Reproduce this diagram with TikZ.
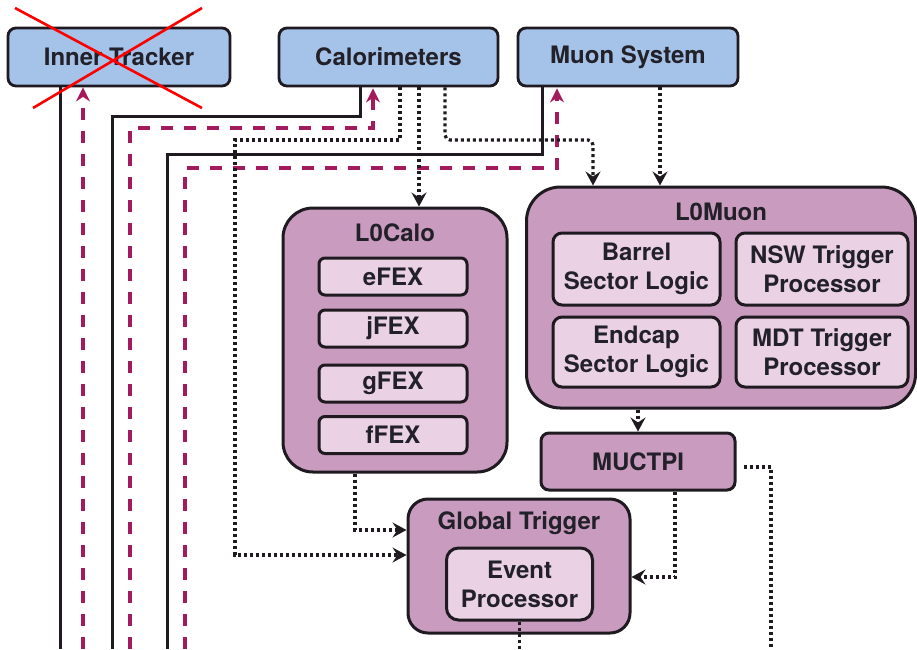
\documentclass[tikz,border=0pt]{standalone}
\usepackage{fontspec}
\setmainfont{TeX Gyre Heros}
\usetikzlibrary{arrows.meta,calc}

\definecolor{srcblue}{RGB}{165,195,233}
\definecolor{trigpink}{RGB}{201,155,190}
\definecolor{subpink}{RGB}{234,210,228}
\definecolor{edge}{RGB}{30,26,32}
\definecolor{ink}{RGB}{34,32,40}
\definecolor{retmag}{RGB}{163,27,92}

\begin{document}
\begin{tikzpicture}[x=1pt,y=-1pt,
  every node/.style={font=\fontsize{24}{29}\selectfont\bfseries, text=ink, align=center, inner sep=0pt},
  srcbox/.style={draw=edge, line width=2.8pt, fill=srcblue, rounded corners=8pt,
                 minimum width=#1, minimum height=58pt},
  groupbox/.style={draw=edge, line width=3pt, fill=trigpink},
  subbox/.style={draw=edge, line width=3pt, fill=subpink, rounded corners=6pt},
  readout/.style={draw=edge, line width=3pt},
  feedback/.style={draw=retmag, line width=4pt, dash pattern=on 12pt off 11pt,
                   -{Stealth[length=14pt,width=14pt]}},
  dotline/.style={draw=edge, line width=3.2pt, dash pattern=on 3pt off 3pt},
  dotarrow/.style={dotline, -{Stealth[length=14pt,width=15pt,inset=5pt]}}
]
\useasboundingbox (0,0) rectangle (917,649);

% detector sources
\node[srcbox=222pt] (it)   at (119,57)   {Inner Tracker};
\node[srcbox=219pt] (cal)  at (388.5,57) {Calorimeters};
\node[srcbox=220pt] (muon) at (628,57)   {Muon System};

% open ends at the lower edge
\coordinate (b60)  at (60,649);
\coordinate (b83)  at (83,649);
\coordinate (b112) at (112,649);
\coordinate (b130) at (130,649);
\coordinate (b167) at (167,649);
\coordinate (b185) at (185,649);
\coordinate (b771) at (771,649);
\coordinate (bot)  at (0,649);

% readout paths (solid)
\draw[readout] ($(it.south)+(-59,0)$) -- (b60);
\draw[readout] ($(cal.south)+(-28.5,0)$) -- ++(0,29) -| (b112);
\draw[readout] ($(muon.south)+(-86,0)$) -- ++(0,67) -| (b167);

% feedback paths (dashed)
\draw[feedback] (b83) -- (b83 |- it.south);
\draw[feedback] (b130) |- ($(cal.south)+(-15.5,41)$) -- ($(cal.south)+(-15.5,1)$);
\draw[feedback] (b185) |- ($(muon.south)+(-71,81)$) -- ($(muon.south)+(-71,1)$);

% trigger boxes
\node[groupbox, rounded corners=30pt, minimum width=224pt, minimum height=264pt] (calo) at (395,340) {};
\node (calot) at (395,233) {L0Calo};
\node[subbox, minimum width=148pt, minimum height=37pt] (efex) at (393,276.5) {eFEX};
\node[subbox, minimum width=148pt, minimum height=37pt] (jfex) at (393,328.5) {jFEX};
\node[subbox, minimum width=148pt, minimum height=37pt] (gfex) at (393,383.5) {gFEX};
\node[subbox, minimum width=148pt, minimum height=37pt] (ffex) at (393,435)   {fFEX};

\node[groupbox, rounded corners=34pt, minimum width=389pt, minimum height=221pt] (l0mu) at (721,297.5) {};
\node (l0mut) at (721,212) {L0Muon};
\node[subbox, rounded corners=9pt, minimum width=167pt, minimum height=72pt] (barrel) at (636.5,269) {Barrel\\Sector Logic};
\node[subbox, rounded corners=9pt, minimum width=172pt, minimum height=72pt] (nsw)    at (822,269)   {NSW Trigger\\Processor};
\node[subbox, rounded corners=9pt, minimum width=167pt, minimum height=70pt] (endcap) at (636.5,352) {Endcap\\Sector Logic};
\node[subbox, rounded corners=9pt, minimum width=172pt, minimum height=70pt] (mdt)    at (822,352)   {MDT Trigger\\Processor};

\node[groupbox, rounded corners=8pt, minimum width=194pt, minimum height=57pt] (muctpi) at (638,461.5) {MUCTPI};

\node[groupbox, rounded corners=20pt, minimum width=222pt, minimum height=134pt] (gt) at (519,566) {};
\node (gtt) at (519,523) {Global Trigger};
\node[subbox, rounded corners=12pt, minimum width=146pt, minimum height=72pt] (ep) at (519.5,584) {Event\\Processor};

% trigger data paths (dotted)
\coordinate (c1) at ($(cal.south)+(11.5,0)$);
\coordinate (c2) at ($(cal.south)+(30.5,0)$);
\coordinate (c3) at ($(cal.south)+(56.5,0)$);
\coordinate (m2) at ($(muon.south)+(32,0)$);
\coordinate (k1) at (235,140);
\coordinate (k2) at (593,140);

\draw[dotarrow] (c1) |- (k1) |- ($(gt.west)+(0,-11)$);
\draw[dotarrow] (c2) -- (c2 |- calo.north);
\draw[dotarrow, rounded corners=5pt] (c3) |- (k2) -- (k2 |- l0mu.north);
\draw[dotarrow] (m2) -- (m2 |- l0mu.north);
\draw[dotarrow] (l0mu.south -| muctpi.north) -- (muctpi.north);
\draw[dotarrow] ($(calo.south)+(-40,0)$) |- ($(gt.west)+(0,-36)$);
\draw[dotarrow] ($(muctpi.south)+(37,0)$) |- ($(gt.east)+(0,11)$);
\draw[dotline] ($(muctpi.east)+(7,5.5)$) -| (b771);
\draw[dotline] (ep.south) -- (ep.south |- bot);

% crossed-out source
\coordinate (x1) at (15,8);
\coordinate (x2) at (202,108);
\coordinate (x3) at (202,8);
\coordinate (x4) at (33,108);
\draw[red, line width=2.6pt] (x1) -- (x2) (x3) -- (x4);
\end{tikzpicture}
\end{document}
